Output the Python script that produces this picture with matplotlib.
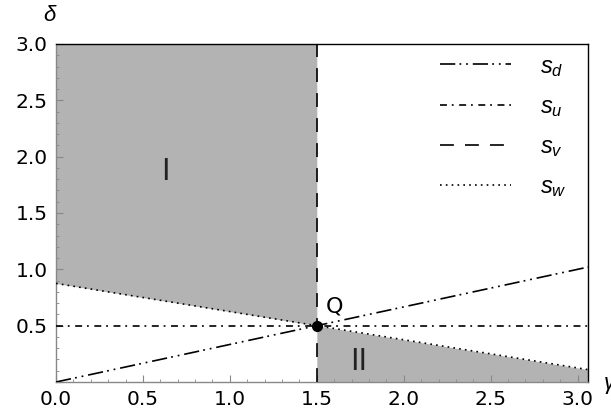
import matplotlib
matplotlib.use("Agg")
import matplotlib.pyplot as plt
from matplotlib.ticker import MultipleLocator

plt.rcParams['font.family'] = ['DejaVu Sans']
plt.rcParams['mathtext.fontset'] = 'custom'
plt.rcParams['mathtext.rm'] = 'Liberation Sans'
plt.rcParams['mathtext.it'] = 'Liberation Sans:italic'
plt.rcParams['lines.scale_dashes'] = False

# data
x_max = 3.06
sd_x = [0.0, 3.06]
sd_y = [0.0, 1.02]
su_x = [0.0, 3.06]
su_y = [0.5, 0.5]
sv_x = [1.5, 1.5]
sv_y = [0.0, 3.0]
sw_x = [0.0, 1.5, 3.06]
sw_y = [0.875, 0.5, 0.11]
q_x, q_y = 1.5, 0.5
ticks = [0.0, 0.5, 1.0, 1.5, 2.0, 2.5, 3.0]
gray = '#b3b3b3'

fig = plt.figure(figsize=(6.11, 4.19), dpi=100, facecolor='white')
ax = fig.add_axes([0.0917, 0.0883, 0.8707, 0.8067])

# shaded regions
ax.fill_between(sw_x[:2], sw_y[:2], [3.0, 3.0], color=gray, lw=0, zorder=1)
ax.fill_between(sw_x[1:], [0, 0], sw_y[1:], color=gray, lw=0, zorder=1)

lw = 1.2
ax.plot(sd_x, sd_y, color='black', lw=lw, ls=(0, (11, 3, 1.3, 3.5, 1.3, 3.5)), label='$s_d$', zorder=3)
ax.plot(su_x, su_y, color='black', lw=lw, ls=(0, (5, 3.5, 1.3, 4)), label='$s_u$', zorder=3)
ax.plot(sv_x, sv_y, color='black', lw=lw, ls=(0, (10, 8)), label='$s_v$', zorder=3)
ax.plot(sw_x, sw_y, color='black', lw=lw, ls=(0, (1.2, 3)), label='$s_w$', zorder=3)
ax.plot([q_x], [q_y], 'o', color='black', ms=7, zorder=4, clip_on=False)

ax.text(0.63, 1.86, 'I', fontsize=22, family='Liberation Sans', ha='center', va='center', color='#222222')
ax.text(1.74, 0.18, 'II', fontsize=22, family='Liberation Sans', ha='center', va='center', color='#222222')
ax.text(1.6, 0.67, 'Q', fontsize=16, ha='center', va='center')

ax.set_xlim(0, x_max)
ax.set_ylim(0, 3.0)
ax.set_xticks(ticks)
ax.set_yticks(ticks)
ax.set_xticklabels(['%.1f' % t for t in ticks])
ax.set_yticklabels(['' if t == 0 else '%.1f' % t for t in ticks])
ax.xaxis.set_minor_locator(MultipleLocator(0.1))
ax.yaxis.set_minor_locator(MultipleLocator(0.1))
ax.tick_params(which='major', direction='in', length=5, width=0.8, color='#888888', labelsize=14.5, pad=6)
ax.tick_params(which='minor', direction='in', length=2.5, width=0.6, color='#888888')
ax.tick_params(top=False, right=False, which='both')
for s in ['left', 'bottom']:
    ax.spines[s].set_color('#888888')
    ax.spines[s].set_linewidth(1.0)
for s in ['top', 'right']:
    ax.spines[s].set_color('black')
    ax.spines[s].set_linewidth(1.0)

fig.text(50 / 611, 1 - 15 / 419, r'$\delta$', fontsize=16, ha='center', va='center')
fig.text(603 / 611, 1 - 385 / 419, r'$\gamma$', fontsize=16, ha='left', va='center')

ax.legend(loc='upper right', bbox_to_anchor=(0.999, 1.034), frameon=False, fontsize=17,
          handlelength=3.0, labelspacing=0.65, handletextpad=1.2)

fig.savefig('out.png', dpi=100, facecolor='white')
